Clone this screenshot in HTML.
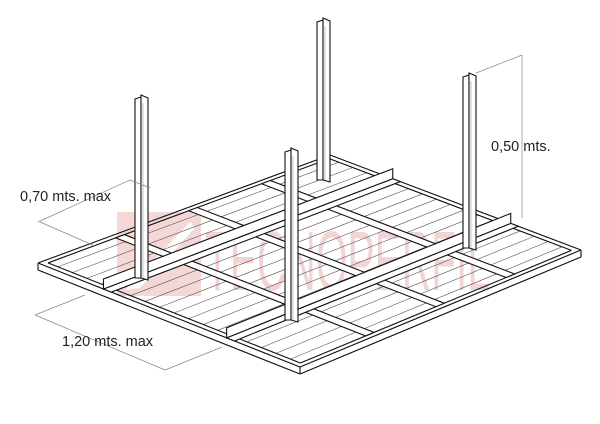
<!DOCTYPE html>
<html><head><meta charset="utf-8"><style>
html,body{margin:0;padding:0;background:#fff;}
svg{display:block;}
text{font-family:"Liberation Sans",sans-serif;}
</style></head><body>
<svg id="s" width="600" height="424" viewBox="0 0 600 424" xmlns="http://www.w3.org/2000/svg">
<rect width="600" height="424" fill="#fff"/>
<g id="wm" opacity="0.22">
<rect x="117" y="212" width="84" height="84" fill="#d05050"/>
<path d="M125 290 L190 222 L195 228 L140 288 Z" fill="#fff"/>
<text x="205" y="290" font-size="84" fill="#c84040" textLength="285" lengthAdjust="spacingAndGlyphs">TECNOPERFIL</text>
</g>
<g id="g" fill="none" stroke="#111" stroke-width="1.1"></g>
<g stroke="#888" stroke-width="0.7" fill="none">
<line x1="38" y1="222" x2="130" y2="180"/><line x1="130" y1="180" x2="150" y2="188"/><line x1="40" y1="222" x2="95" y2="246"/>
<line x1="35" y1="315" x2="165" y2="370"/><line x1="35" y1="315" x2="85" y2="295"/><line x1="165" y1="370" x2="222" y2="347"/>
<line x1="522" y1="55" x2="522" y2="218"/><line x1="476" y1="73" x2="522" y2="55"/>
</g>
<text x="20" y="201" font-size="14.5" fill="#222">0,70 mts. max</text>
<text x="62" y="346" font-size="14.5" fill="#222">1,20 mts. max</text>
<text x="491" y="151" font-size="14.5" fill="#222">0,50 mts.</text>
</svg>
<script>
var g=document.getElementById('g'),NS='http://www.w3.org/2000/svg';
var L=[38,263],B=[300,367],R=[581,250],K=[330,155];
function P(u,v){return [L[0]*(1-u)*(1-v)+B[0]*u*(1-v)+R[0]*u*v+K[0]*(1-u)*v, L[1]*(1-u)*(1-v)+B[1]*u*(1-v)+R[1]*u*v+K[1]*(1-u)*v];}
function ln(a,b,w,c){var e=document.createElementNS(NS,'line');e.setAttribute('x1',a[0]);e.setAttribute('y1',a[1]);e.setAttribute('x2',b[0]);e.setAttribute('y2',b[1]);if(w)e.setAttribute('stroke-width',w);if(c)e.setAttribute('stroke',c);g.appendChild(e);}
function poly(pts,fill){var e=document.createElementNS(NS,'polygon');e.setAttribute('points',pts.map(p=>p.join(',')).join(' '));e.setAttribute('fill',fill||'#fff');g.appendChild(e);}
for(var i=1;i<18;i++){var u=i/18;ln(P(u,0.02),P(u,0.98),0.6,'#555');}
var d=0.018;
ln(P(0,0),P(1,0));ln(P(d,d),P(1-d,d));ln(P(1,0),P(1,1));ln(P(1-d,d),P(1-d,1-d));
ln(P(1,1),P(0,1));ln(P(1-d,1-d),P(d,1-d));ln(P(0,1),P(0,0));ln(P(d,1-d),P(d,d));
ln([38,263],[38,270]);ln([300,367],[300,374]);ln([581,250],[581,257]);ln([38,270],[300,374]);ln([300,374],[581,257]);
[0.25,0.5,0.75].forEach(function(v){poly([P(d,v),P(1-d,v),P(1-d,v+0.03),P(d,v+0.03)]);});
[0.25,0.72].forEach(function(u){var a=P(u,0),b=P(u,1),a2=P(u+0.03,0),b2=P(u+0.03,1);
poly([a,b,b2,a2]);poly([[a[0],a[1]],[b[0],b[1]],[b[0],b[1]-10],[a[0],a[1]-10]]);});
function post(x,t,b){poly([[x,t+4],[x+6,t+2],[x+6,b],[x,b]]);poly([[x+6,t],[x+13,t+3],[x+13,b+2],[x+6,b]]);ln([x+8,t+8],[x+8,b],0.5,'#888');}
post(135,95,278);post(317,18,180);post(285,148,320);post(463,73,248);
</script>
</body></html>
